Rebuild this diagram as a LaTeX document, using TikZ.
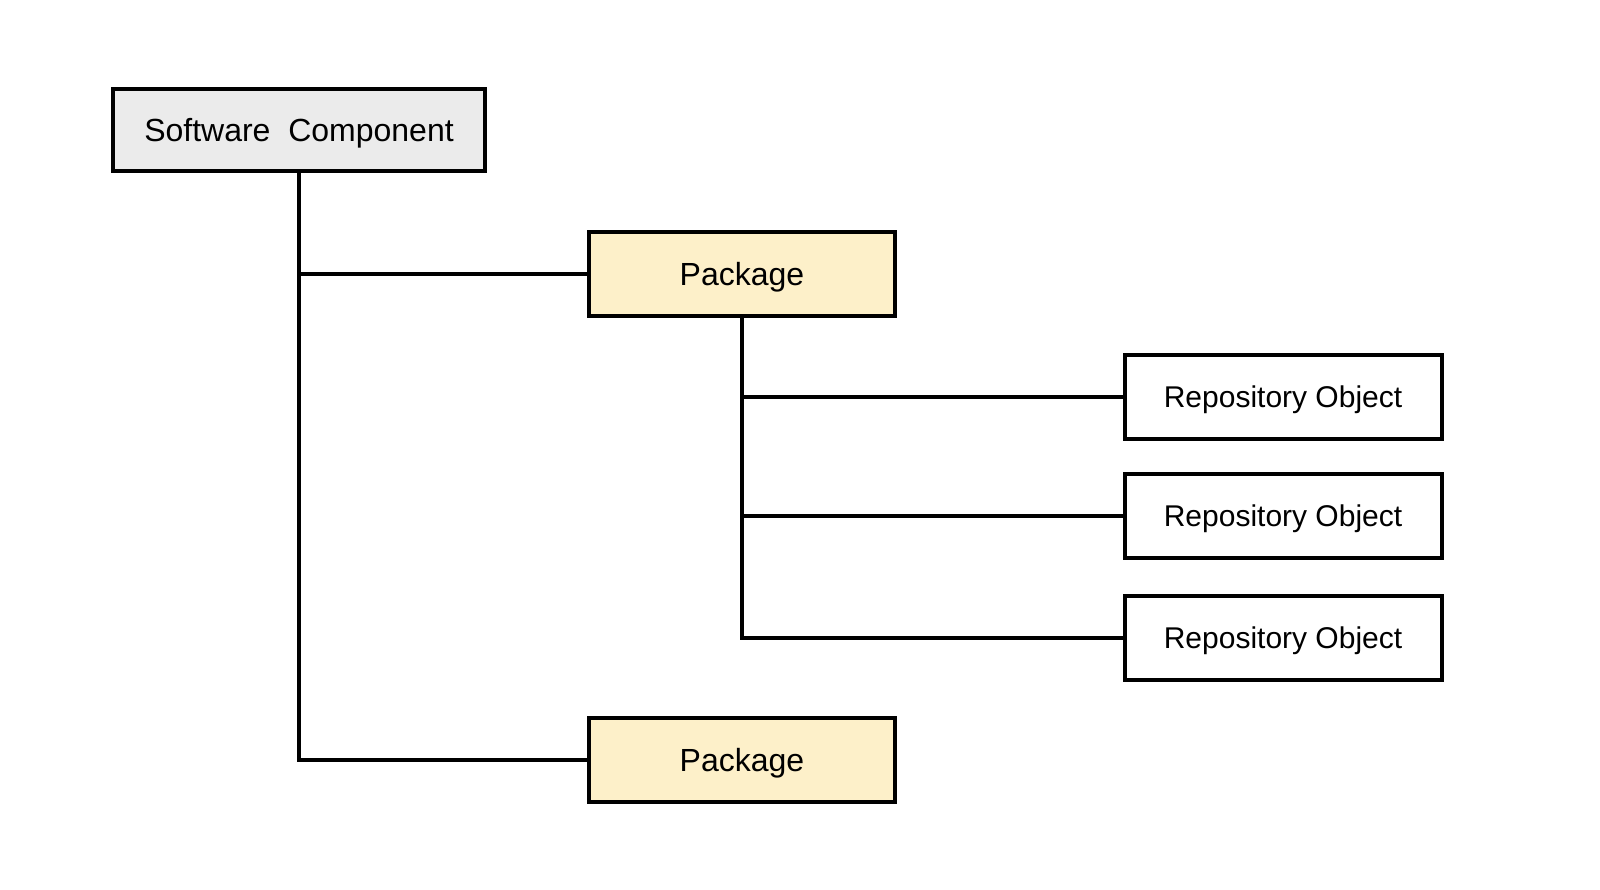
\documentclass[tikz,border=0pt]{standalone}
\usepackage{fontspec}
\setmainfont{Liberation Sans}
\usepackage{tikz}
\usetikzlibrary{calc}
\definecolor{compgray}{RGB}{235,235,235}
\definecolor{pkgyellow}{RGB}{253,240,201}

\begin{document}
\begin{tikzpicture}[x=0.5pt,y=-0.5pt,
    box/.style={draw=black,line width=2pt,inner sep=0pt,minimum height=42pt,text depth=0pt},
    comp/.style={box,fill=compgray,minimum width=186pt,minimum height=41pt,text height=11.5pt,font=\fontsize{16}{19}\selectfont},
    pkg/.style={box,fill=pkgyellow,minimum width=153pt,text height=11.5pt,font=\fontsize{16}{19}\selectfont},
    repo/.style={box,fill=white,minimum width=158.5pt,text height=10.8pt,font=\fontsize{15}{18}\selectfont},
    link/.style={line width=2pt}]
    \useasboundingbox (0,0) rectangle (1600,889);
    \node[comp] (sc) at (299,130) {Software~ Component};
    \node[pkg] (pkg1) at (742,273.5) {Package};
    \node[pkg] (pkg2) at (742,760) {Package};
    \node[repo] (repo1) at (1283,396.5) {Repository Object};
    \node[repo] (repo2) at (1283,516) {Repository Object};
    \node[repo] (repo3) at (1283,637.5) {Repository Object};
    \draw[link] (sc.south) |- (pkg1.west);
    \draw[link] (sc.south) |- (pkg2.west);
    \draw[link] (pkg1.south) |- (repo1.west);
    \draw[link] (pkg1.south) |- (repo2.west);
    \draw[link] (pkg1.south) |- (repo3.west);
\end{tikzpicture}
\end{document}
